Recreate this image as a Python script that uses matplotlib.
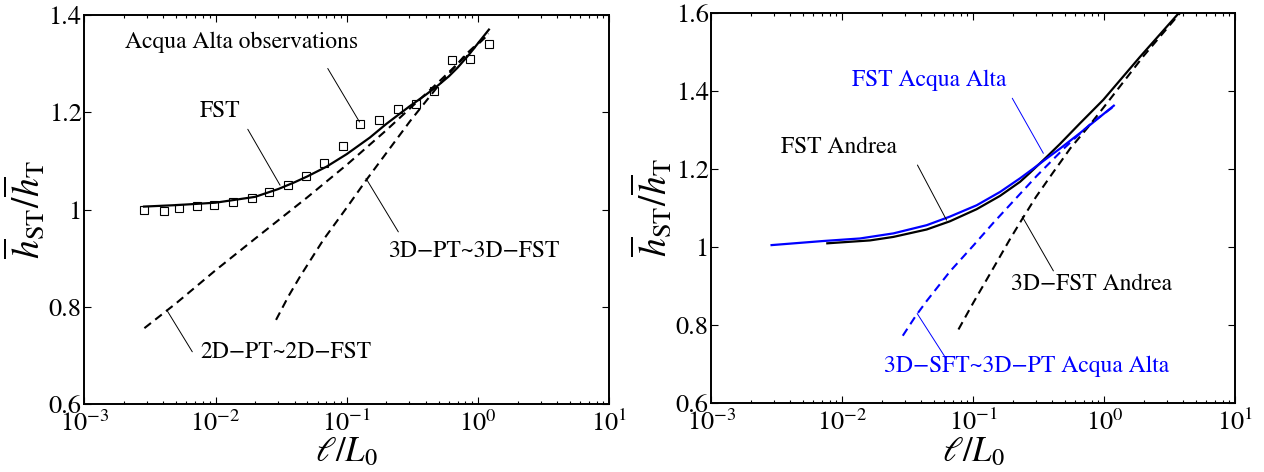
import matplotlib

matplotlib.use("Agg")
import matplotlib.pyplot as plt
from matplotlib.ticker import FixedLocator, FuncFormatter, LogLocator, NullLocator

plt.rcParams["font.family"] = ["STIXGeneral", "DejaVu Sans"]
plt.rcParams["mathtext.fontset"] = "stix"

# --- left panel: Acqua Alta record against theory ---
obs_x = [0.00285, 0.00406, 0.00525, 0.00722, 0.00979, 0.01365, 0.0188, 0.0257, 0.0358, 0.0492,
         0.0673, 0.0931, 0.127, 0.176, 0.244, 0.334, 0.465, 0.631, 0.867, 1.21]
obs_y = [1.000, 0.997, 1.003, 1.008, 1.009, 1.015, 1.023, 1.035, 1.051, 1.068,
         1.096, 1.131, 1.175, 1.185, 1.206, 1.216, 1.244, 1.307, 1.309, 1.340]

fst_x = [0.00285, 0.005, 0.01, 0.02, 0.03, 0.04, 0.05, 0.07, 0.1, 0.15, 0.2, 0.3, 0.4, 0.5,
         0.6, 0.7, 0.85, 1.0, 1.21]
fst_y = [1.006, 1.009, 1.014, 1.026, 1.042, 1.056, 1.068, 1.088, 1.114, 1.148, 1.176, 1.212,
         1.236, 1.256, 1.274, 1.292, 1.318, 1.342, 1.370]

pt2d_x = [0.00287, 0.005, 0.01, 0.02, 0.05, 0.1, 0.2, 0.5, 1.0, 1.2]
pt2d_y = [0.756, 0.807, 0.875, 0.940, 1.025, 1.092, 1.163, 1.262, 1.340, 1.360]

pt3d_x = [0.0289, 0.036, 0.044, 0.0664, 0.1, 0.142, 0.2, 0.304, 0.5, 0.8, 1.2]
pt3d_y = [0.773, 0.822, 0.862, 0.938, 1.004, 1.062, 1.116, 1.182, 1.255, 1.318, 1.362]

# --- right panel: Acqua Alta vs Andrea ---
fst_aa_x = [0.00288, 0.00714, 0.01362, 0.0245, 0.044, 0.0662, 0.1059, 0.1596, 0.227, 0.2866,
            0.363, 0.458, 0.652, 1.18]
fst_aa_y = [1.005, 1.0155, 1.022, 1.035, 1.056, 1.078, 1.107, 1.141, 1.176, 1.201,
            1.227, 1.252, 1.292, 1.362]

fst_an_x = [0.00767, 0.01625, 0.0245, 0.044, 0.0662, 0.1059, 0.1596, 0.227, 0.27, 0.363,
            0.458, 0.652, 0.981, 1.87, 3.72]
fst_an_y = [1.0096, 1.017, 1.026, 1.045, 1.066, 1.097, 1.131, 1.167, 1.19, 1.231,
            1.264, 1.317, 1.377, 1.487, 1.600]

fst3d_an_x = [0.0769, 0.1, 0.15, 0.19, 0.236, 0.3, 0.4, 0.55, 0.75, 1.0, 2.0, 3.8]
fst3d_an_y = [0.789, 0.858, 0.960, 1.020, 1.072, 1.128, 1.188, 1.253, 1.307, 1.360, 1.490, 1.600]

pt3d_aa_x = pt3d_x
pt3d_aa_y = pt3d_y

BLUE = "#0000ff"
DASH = (0, (4.0, 2.6))

# text, text anchor, leader start, leader end, colour
left_notes = [
    ("Acqua Alta observations", (0.00204, 1.344), (0.0716, 1.290), (0.125, 1.180), "k"),
    ("FST", (0.00762, 1.2025), (0.0176, 1.165), (0.031, 1.050), "k"),
    ("3D\u2212PT~3D\u2212FST", (0.2075, 0.9145), (0.247, 0.954), (0.140, 1.064), "k"),
    ("2D\u2212PT~2D\u2212FST", (0.00767, 0.7054), (0.00665, 0.7074), (0.00425, 0.7932), "k"),
]
right_notes = [
    ("FST Acqua Alta", (0.0118, 1.4257), (0.198, 1.381), (0.342, 1.24), BLUE),
    ("FST Andrea", (0.00341, 1.2549), (0.0374, 1.21), (0.0624, 1.069), "k"),
    ("3D\u2212FST Andrea", (0.1937, 0.9047), (0.408, 0.939), (0.236, 1.078), "k"),
    ("3D\u2212SFT~3D\u2212PT Acqua Alta", (0.0209, 0.6935), (0.0601, 0.721), (0.0372, 0.830), BLUE),
]


def style_axes(ax, ymax, yticks):
    ax.set_xscale("log")
    ax.set_xlim(1e-3, 1e1)
    ax.set_ylim(0.6, ymax)
    ax.xaxis.set_major_locator(LogLocator(base=10, numticks=10))
    ax.xaxis.set_minor_locator(LogLocator(base=10, subs=range(2, 10), numticks=20))
    ax.yaxis.set_major_locator(FixedLocator(yticks))
    ax.yaxis.set_minor_locator(NullLocator())
    ax.yaxis.set_major_formatter(FuncFormatter(lambda v, _: f"{v:g}"))
    ax.tick_params(which="both", direction="in", top=True, right=True, labelsize=19, width=0.8)
    ax.tick_params(which="major", length=5)
    ax.tick_params(which="minor", length=2.5)
    ax.tick_params(axis="x", pad=5)
    ax.tick_params(axis="y", pad=2)
    for sp in ax.spines.values():
        sp.set_linewidth(1.4)
    ax.set_xlabel(r"$\ell/L_0$", fontsize=25, labelpad=-1)
    ax.set_ylabel(r"$\overline{h}_{\rm ST}/\overline{h}_{\rm T}$", fontsize=27, labelpad=1)


def add_notes(ax, notes):
    for text, pos, start, end, color in notes:
        ax.text(pos[0], pos[1], text, fontsize=17, color=color, ha="left", va="center")
        ax.annotate("", xy=end, xytext=start,
                    arrowprops=dict(arrowstyle="-", color=color, lw=0.7, shrinkA=0, shrinkB=0))


fig = plt.figure(figsize=(12.64, 4.72), dpi=100)
ax1 = fig.add_axes([84.3 / 1264, 1 - 404 / 472, 525 / 1264, 389 / 472])
ax2 = fig.add_axes([711.4 / 1264, 1 - 403.3 / 472, 524 / 1264, 390.6 / 472])

ax1.plot(fst_x, fst_y, color="k", lw=1.6)
ax1.plot(pt2d_x, pt2d_y, color="k", lw=1.5, linestyle=DASH)
ax1.plot(pt3d_x, pt3d_y, color="k", lw=1.5, linestyle=DASH)
ax1.plot(obs_x, obs_y, linestyle="none", marker="s", ms=6, mfc="none", mec="k", mew=0.8)
style_axes(ax1, 1.4, [0.6, 0.8, 1.0, 1.2, 1.4])
add_notes(ax1, left_notes)

ax2.plot(fst_an_x, fst_an_y, color="k", lw=1.6)
ax2.plot(fst_aa_x, fst_aa_y, color=BLUE, lw=1.6)
ax2.plot(fst3d_an_x, fst3d_an_y, color="k", lw=1.5, linestyle=DASH)
ax2.plot(pt3d_aa_x, pt3d_aa_y, color=BLUE, lw=1.5, linestyle=DASH)
style_axes(ax2, 1.6, [0.6, 0.8, 1.0, 1.2, 1.4, 1.6])
add_notes(ax2, right_notes)

fig.savefig("out.png", dpi=100)
